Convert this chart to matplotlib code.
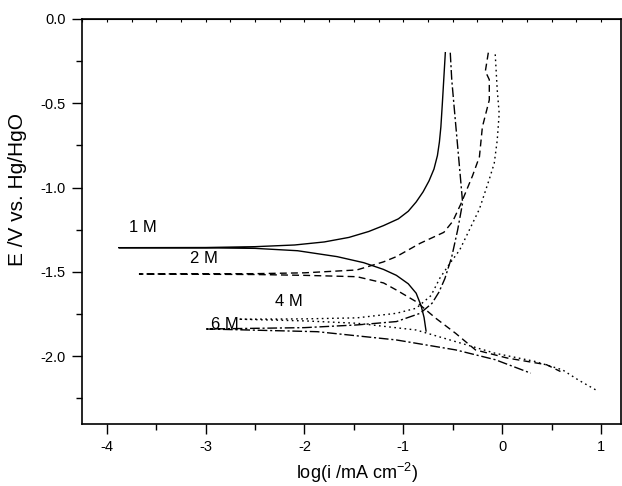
import matplotlib
matplotlib.use("Agg")
import matplotlib.pyplot as plt
from matplotlib.ticker import MultipleLocator

plt.rcParams['font.family'] = ['Liberation Sans', 'DejaVu Sans']
plt.rcParams['mathtext.fontset'] = 'custom'
plt.rcParams['mathtext.rm'] = 'Liberation Sans'
plt.rcParams['mathtext.it'] = 'Liberation Sans:italic'
plt.rcParams['mathtext.bf'] = 'Liberation Sans:bold'

# 1 M (solid): anodic branch (from Ecorr upward) and cathodic branch
x1_an = [-3.88, -3.0, -2.5, -2.1, -1.8, -1.55, -1.35, -1.2, -1.05, -0.95, -0.87, -0.80, -0.74, -0.69, -0.655, -0.635, -0.62, -0.605, -0.59, -0.575]
y1_an = [-1.356, -1.355, -1.350, -1.340, -1.322, -1.295, -1.26, -1.225, -1.185, -1.14, -1.085, -1.025, -0.96, -0.89, -0.81, -0.73, -0.64, -0.5, -0.35, -0.2]
x1_ca = [-3.88, -3.0, -2.5, -2.07, -1.67, -1.4, -1.2, -1.07, -0.95, -0.87, -0.82, -0.79, -0.77]
y1_ca = [-1.356, -1.357, -1.36, -1.374, -1.409, -1.445, -1.485, -1.52, -1.57, -1.626, -1.70, -1.77, -1.85]

# 2 M (dashed)
x2_an = [-3.67, -2.5, -2.0, -1.47, -1.2, -1.07, -0.83, -0.59, -0.5, -0.415, -0.3, -0.23, -0.2, -0.13, -0.13, -0.17, -0.14]
y2_an = [-1.512, -1.51, -1.505, -1.488, -1.44, -1.409, -1.33, -1.265, -1.2, -1.093, -0.93, -0.817, -0.64, -0.48, -0.36, -0.31, -0.2]
x2_ca = [-3.67, -2.5, -2.0, -1.47, -1.2, -1.07, -0.87, -0.67, -0.47, -0.27, 0.05, 0.45, 0.59]
y2_ca = [-1.512, -1.515, -1.52, -1.528, -1.565, -1.607, -1.676, -1.775, -1.864, -1.962, -2.01, -2.05, -2.09]

# 4 M (dotted)
x4_an = [-2.67, -2.0, -1.47, -1.07, -0.87, -0.72, -0.63, -0.53, -0.43, -0.23, -0.13, -0.08, -0.05, -0.03, -0.05, -0.07]
y4_an = [-1.78, -1.778, -1.772, -1.745, -1.715, -1.64, -1.536, -1.45, -1.37, -1.127, -0.95, -0.855, -0.72, -0.56, -0.42, -0.21]
x4_ca = [-2.67, -2.0, -1.47, -0.87, -0.47, -0.07, 0.33, 0.61, 0.77, 0.95]
y4_ca = [-1.78, -1.79, -1.804, -1.844, -1.913, -1.982, -2.03, -2.08, -2.14, -2.2]

# 6 M (dash-dot)
x6_an = [-2.99, -2.0, -1.47, -1.07, -0.83, -0.71, -0.64, -0.58, -0.51, -0.45, -0.40, -0.42, -0.45, -0.48, -0.51, -0.525]
y6_an = [-1.838, -1.83, -1.814, -1.794, -1.745, -1.686, -1.62, -1.54, -1.41, -1.25, -1.09, -0.955, -0.757, -0.56, -0.36, -0.2]
x6_ca = [-2.99, -1.87, -1.07, -0.47, -0.07, 0.29]
y6_ca = [-1.838, -1.854, -1.903, -1.962, -2.02, -2.10]

labels = ["1 M", "2 M", "4 M", "6 M"]
label_x = [-3.64, -3.02, -2.16, -2.81]
label_y = [-1.237, -1.419, -1.676, -1.814]

fig = plt.figure(figsize=(6.22, 4.86), dpi=100)
ax = fig.add_axes([0.132, 0.128, 0.866, 0.833])

def branch(xa, ya, xc, yc):
    return xa[::-1] + xc[1:], ya[::-1] + yc[1:]

styles = [
    dict(linestyle='-'),
    dict(linestyle=(0, (5, 3))),
    dict(linestyle=(0, (1.2, 2.5))),
    dict(linestyle=(0, (7, 2, 1.5, 2))),
]
series = [(x1_an, y1_an, x1_ca, y1_ca), (x2_an, y2_an, x2_ca, y2_ca),
          (x4_an, y4_an, x4_ca, y4_ca), (x6_an, y6_an, x6_ca, y6_ca)]
for (xa, ya, xc, yc), st in zip(series, styles):
    xx, yy = branch(xa, ya, xc, yc)
    ax.plot(xx, yy, color='black', lw=1.0, **st)

for t, lx, ly in zip(labels, label_x, label_y):
    ax.text(lx, ly, t, fontsize=12, ha='center', va='center')

ax.set_xlim(-4.25, 1.2)
ax.set_ylim(-2.4, 0.0)
ax.xaxis.set_major_locator(MultipleLocator(1))
ax.xaxis.set_minor_locator(MultipleLocator(0.5))
ax.yaxis.set_major_locator(MultipleLocator(0.5))
ax.yaxis.set_minor_locator(MultipleLocator(0.25))
ax.xaxis.set_major_formatter(plt.FuncFormatter(lambda v, p: f"{v:.0f}"))
ax.yaxis.set_major_formatter(plt.FuncFormatter(lambda v, p: f"{v:.1f}"))
ax.tick_params(which='major', direction='out', length=7, width=1.0, labelsize=10.5, pad=5)
ax.tick_params(which='minor', direction='out', length=4, width=1.0)

top = ax.secondary_xaxis('top')
top.xaxis.set_major_locator(MultipleLocator(0.25))
top.tick_params(direction='in', length=2.5, width=0.8, labeltop=False)

for s in ax.spines.values():
    s.set_linewidth(1.2)

ax.set_xlabel("log(i /mA cm$^{-2}$)", fontsize=13, va='center')
ax.xaxis.set_label_coords(0.51, -0.122)
ax.set_ylabel("E /V vs. Hg/HgO", fontsize=15, va='center')
ax.yaxis.set_label_coords(-0.12, 0.578)

fig.savefig("out.png", dpi=100)
